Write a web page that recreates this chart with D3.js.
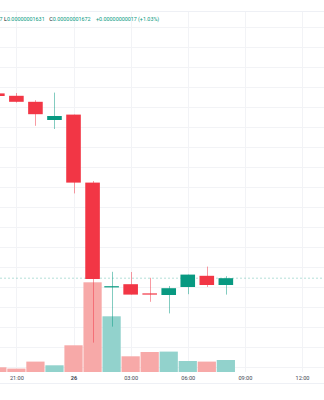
<!DOCTYPE html>
<html>
<head>
<meta charset="utf-8">
<script src="https://cdn.jsdelivr.net/npm/d3@7"></script>
<style>
  body { margin: 0; background: #fff; }
  svg { display: block; }
</style>
</head>
<body>
<script>
// hourly candles, prices in units of 1e-8
var hours   = ["2024-05-25T20:00", "2024-05-25T21:00", "2024-05-25T22:00", "2024-05-25T23:00",
               "2024-05-26T00:00", "2024-05-26T01:00", "2024-05-26T02:00", "2024-05-26T03:00",
               "2024-05-26T04:00", "2024-05-26T05:00", "2024-05-26T06:00", "2024-05-26T07:00",
               "2024-05-26T08:00"];
var opens   = [2.134, 2.128, 2.113, 2.0675, 2.081, 1.911, 1.651, 1.657, 1.634, 1.630, 1.650, 1.678, 1.655];
var highs   = [2.136, 2.135, 2.117, 2.136,  2.081, 1.915, 1.688, 1.6875, 1.673, 1.6525, 1.681, 1.701, 1.677];
var lows    = [2.127, 2.111, 2.053, 2.045,  1.884, 1.511, 1.551, 1.631, 1.613, 1.584, 1.632, 1.650, 1.631];
var closes  = [2.1275, 2.113, 2.082, 2.0775, 1.911, 1.670, 1.652, 1.631, 1.633, 1.647, 1.681, 1.655, 1.672];
var volumes = [4.7, 3.4, 10.4, 6.7, 26.7, 89.7, 55.7, 15.7, 20, 20.4, 11, 10.4, 12];

var tickHours = ["2024-05-25T21:00", "2024-05-26T00:00", "2024-05-26T03:00",
                 "2024-05-26T06:00", "2024-05-26T09:00", "2024-05-26T12:00"];

var width = 324, height = 400;
var up = "#089981", down = "#F23645";

var svg = d3.select("body").append("svg")
    .attr("width", width)
    .attr("height", height)
    .style("font-family", "Roboto, sans-serif");

var parse = d3.utcParse("%Y-%m-%dT%H:%M");

var x = d3.scaleUtc()
    .domain([parse("2024-05-25T21:00"), parse("2024-05-26T12:00")])
    .range([16.4, 302]);

var y = d3.scaleLinear()
    .domain([1.45, 2.30])
    .range([367, 27]);

var yVol = d3.scaleLinear()
    .domain([0, 90])
    .range([372, 282]);

var step = x(parse("2024-05-26T01:00")) - x(parse("2024-05-26T00:00"));

// pane top line
svg.append("line")
    .attr("x1", 0).attr("x2", width)
    .attr("y1", 11.5).attr("y2", 11.5)
    .attr("stroke", "#eef0f5");

// horizontal grid
svg.append("g").selectAll("line")
    .data(y.ticks(17).filter(function (t) { return y(t) > 12; }))
    .join("line")
    .attr("x1", 0).attr("x2", width)
    .attr("y1", function (d) { return Math.round(y(d)) + 0.5; })
    .attr("y2", function (d) { return Math.round(y(d)) + 0.5; })
    .attr("stroke", "#f2f3f6");

// vertical grid
var ticks = tickHours.map(parse);
svg.append("g").selectAll("line")
    .data(ticks)
    .join("line")
    .attr("x1", function (d) { return Math.round(x(d)) + 0.5; })
    .attr("x2", function (d) { return Math.round(x(d)) + 0.5; })
    .attr("y1", 12).attr("y2", 372)
    .attr("stroke", "#f2f3f6");

var candles = hours.map(function (h, i) {
    return { t: parse(h), o: opens[i], h: highs[i], l: lows[i], c: closes[i], v: volumes[i] };
});

// volume
svg.append("g").selectAll("rect")
    .data(candles)
    .join("rect")
    .attr("x", function (d) { return x(d.t) - step / 2 + 0.4; })
    .attr("width", step - 0.8)
    .attr("y", function (d) { return yVol(d.v); })
    .attr("height", function (d) { return yVol(0) - yVol(d.v); })
    .attr("fill", function (d) { return d.c >= d.o ? "#92d2cc" : "#f7a9a8"; });

// last price line
var last = candles[candles.length - 1];
svg.append("line")
    .attr("x1", 0).attr("x2", width)
    .attr("y1", y(last.c)).attr("y2", y(last.c))
    .attr("stroke", up)
    .attr("stroke-opacity", 0.3)
    .attr("stroke-dasharray", "2,2");

// wicks
svg.append("g").selectAll("line")
    .data(candles)
    .join("line")
    .attr("x1", function (d) { return Math.round(x(d.t)) + 0.5; })
    .attr("x2", function (d) { return Math.round(x(d.t)) + 0.5; })
    .attr("y1", function (d) { return y(d.h); })
    .attr("y2", function (d) { return y(d.l); })
    .attr("stroke", function (d) { return d.c >= d.o ? up : down; })
    .attr("stroke-opacity", 0.5);

// bodies
var bodyW = 14.6;
svg.append("g").selectAll("rect")
    .data(candles)
    .join("rect")
    .attr("x", function (d) { return x(d.t) - bodyW / 2; })
    .attr("width", bodyW)
    .attr("y", function (d) { return y(Math.max(d.o, d.c)); })
    .attr("height", function (d) { return Math.max(1.2, Math.abs(y(d.o) - y(d.c))); })
    .attr("fill", function (d) { return d.c >= d.o ? up : down; });

// time axis
var xAxis = svg.append("g")
    .attr("transform", "translate(0,372)")
    .call(d3.axisBottom(x)
        .tickValues(ticks)
        .tickSize(0)
        .tickPadding(6)
        .tickFormat(function (d) {
            return d.getUTCHours() === 0 ? d3.utcFormat("%-d")(d) : d3.utcFormat("%H:%M")(d);
        }));
xAxis.select(".domain").remove();
xAxis.selectAll("text")
    .attr("dy", "0.3em")
    .attr("y", 6)
    .style("font-family", "Roboto, sans-serif")
    .style("font-size", "5.6px")
    .attr("fill", "#434651")
    .style("font-weight", function (d) { return d.getUTCHours() === 0 ? "bold" : "normal"; });

svg.append("line")
    .attr("x1", 0).attr("x2", width)
    .attr("y1", 383.5).attr("y2", 383.5)
    .attr("stroke", "#eef0f5");

// legend for the last candle
var fmt = function (v) { return (v * 1e-8).toFixed(11); };
var diff = last.c - last.o;
var pct = diff / last.o * 100;
var legend = svg.append("g").style("font-size", "5.4px");

legend.append("text")
    .attr("x", 2.5).attr("y", 21)
    .attr("text-anchor", "end")
    .attr("fill", up)
    .text(fmt(last.h));

var items = [
    { x: 4, label: "L", value: fmt(last.l) },
    { x: 49.3, label: "C", value: fmt(last.c) },
    { x: 96, label: "", value: (diff >= 0 ? "+" : "") + (diff * 1e-8).toFixed(11) },
    { x: 138, label: "", value: "(" + (pct >= 0 ? "+" : "") + pct.toFixed(2) + "%)" }
];
items.forEach(function (it) {
    var t = legend.append("text").attr("x", it.x).attr("y", 21);
    t.append("tspan").attr("fill", "#131722").text(it.label);
    t.append("tspan").attr("fill", up).text(it.value);
});
</script>
</body>
</html>
